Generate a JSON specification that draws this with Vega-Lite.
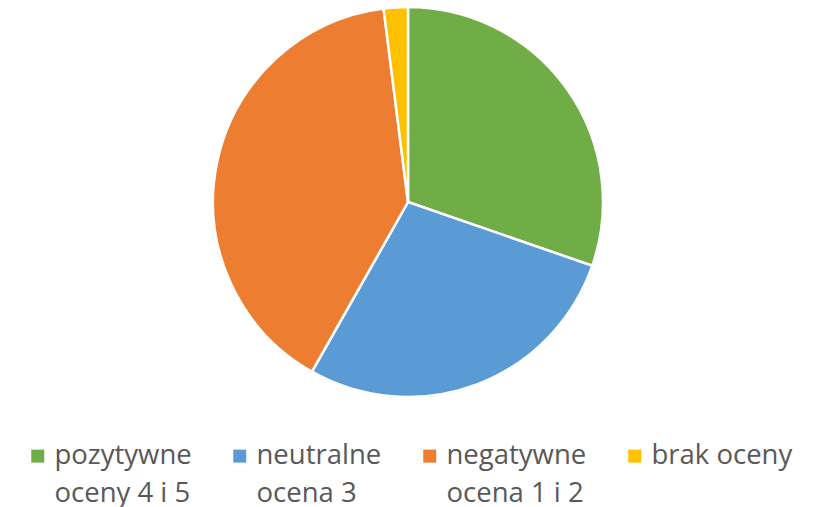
{
  "$schema": "https://vega.github.io/schema/vega-lite/v6.json",
  "width": 816,
  "height": 390,
  "padding": {"left": 0, "top": 7, "right": 7, "bottom": 110},
  "autosize": {"type": "none"},
  "background": "white",
  "config": {
    "style": {"guide-label": {"lineHeight": 38, "dy": 8}}
  },
  "data": {
    "values": [
      {"kategoria": "pozytywne|oceny 4 i 5", "udzial": 30.3, "kolejnosc": 1},
      {"kategoria": "neutralne|ocena 3", "udzial": 27.9, "kolejnosc": 2},
      {"kategoria": "negatywne|ocena 1 i 2", "udzial": 39.8, "kolejnosc": 3},
      {"kategoria": "brak oceny|", "udzial": 2.0, "kolejnosc": 4}
    ]
  },
  "mark": {"type": "arc", "outerRadius": 195, "stroke": "white", "strokeWidth": 2.5},
  "encoding": {
    "theta": {"field": "udzial", "type": "quantitative", "stack": true},
    "order": {"field": "kolejnosc", "type": "quantitative"},
    "color": {
      "field": "kategoria",
      "type": "nominal",
      "scale": {
        "domain": ["pozytywne|oceny 4 i 5", "neutralne|ocena 3", "negatywne|ocena 1 i 2", "brak oceny|"],
        "range": ["#70AD47", "#5B9BD5", "#ED7D31", "#FFC000"]
      },
      "legend": {
        "title": null,
        "orient": "none",
        "legendX": 24,
        "legendY": 435,
        "padding": 0,
        "direction": "horizontal",
        "columns": 4,
        "columnPadding": 34,
        "symbolType": "square",
        "symbolSize": 169,
        "symbolStrokeWidth": 0,
        "labelOffset": 3,
        "labelFont": "Open Sans",
        "labelFontSize": 27.5,
        "labelBaseline": "alphabetic",
        "labelColor": "#595959",
        "labelLimit": 400,
        "labelExpr": "split(datum.label, '|')"
      }
    }
  }
}
